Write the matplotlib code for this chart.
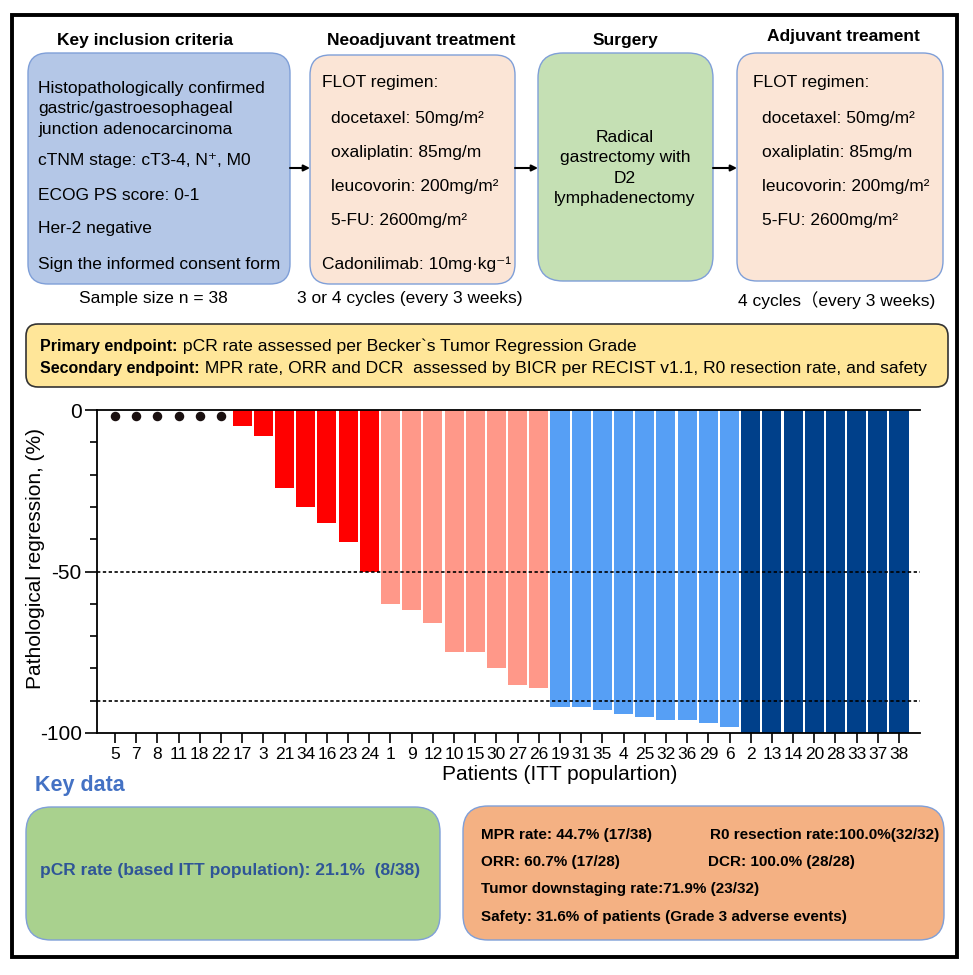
import numpy as np
import matplotlib.pyplot as plt
from matplotlib.patches import FancyBboxPatch, Rectangle

plt.rcParams['font.family'] = ['Liberation Sans', 'DejaVu Sans', 'Noto Sans CJK SC']

# waterfall data (patients in plotted order, regression in %; nan = not evaluated)
patients = ['5', '7', '8', '11', '18', '22', '17', '3', '21', '34', '16', '23', '24',
            '1', '9', '12', '10', '15', '30', '27', '26', '19', '31', '35', '4', '25',
            '32', '36', '29', '6', '2', '13', '14', '20', '28', '33', '37', '38']
regression = [np.nan, np.nan, np.nan, np.nan, np.nan, np.nan,
              -5, -8, -24, -30, -35, -41, -50,
              -60, -62, -66, -75, -75, -80, -85, -86,
              -92, -92, -93, -94, -95, -96, -96, -97, -98,
              -100, -100, -100, -100, -100, -100, -100, -100]
ref_lines = [-50, -90]

# flow chart texts
headers = ['Key inclusion criteria', 'Neoadjuvant treatment', 'Surgery', 'Adjuvant treament']
criteria = ['Histopathologically confirmed\ngastric/gastroesophageal\njunction adenocarcinoma',
            'cTNM stage: cT3-4, N\u207a, M0', 'ECOG PS score: 0-1', 'Her-2 negative',
            'Sign the informed consent form']
flot = ['docetaxel: 50mg/m\u00b2', 'oxaliplatin: 85mg/m', 'leucovorin: 200mg/m\u00b2',
        '5-FU: 2600mg/m\u00b2']
key_data = ['MPR rate: 44.7% (17/38)', 'R0 resection rate:100.0%(32/32)',
            'ORR: 60.7% (17/28)', 'DCR: 100.0% (28/28)',
            'Tumor downstaging rate:71.9% (23/32)',
            'Safety: 31.6% of patients (Grade 3 adverse events)']


def bar_color(v):
    if v <= -100:
        return '#00408a'
    if v <= -90:
        return '#569ff5'
    if v < -50:
        return '#ff9889'
    return '#ff0000'


fig = plt.figure(figsize=(9.73, 9.75), dpi=100)
bg = fig.add_axes([0, 0, 1, 1])
bg.set_xlim(0, 973)
bg.set_ylim(975, 0)
bg.axis('off')
renderer = fig.canvas.get_renderer()


def box(x, y, w, h, fc, ec='#7f9fd8', r=20, lw=1.0):
    bg.add_patch(FancyBboxPatch((x, y), w, h, boxstyle='round,pad=0,rounding_size=%d' % r,
                                fc=fc, ec=ec, lw=lw))


def txt(x, y, s, size=12.5, **kw):
    return bg.text(x, y, s, fontsize=size, va='center', **kw)


def run(x, y, parts):
    for s, w, size in parts:
        t = txt(x, y, s, size=size, weight=w)
        x += t.get_window_extent(renderer).width


# outer frame
bg.add_patch(Rectangle((12, 15), 945, 942, fill=False, ec='black', lw=2.8))

# top boxes
box(28, 53, 262, 231, '#b4c7e7')
box(310, 55, 205, 229, '#fbe5d6')
box(538, 53, 175, 228, '#c5e0b4', r=25)
box(737, 53, 206, 228, '#fbe5d6')

for s, xc, yc in zip(headers, [145, 421, 625, 843], [40, 40, 40, 37]):
    txt(xc, yc, s, weight='bold', ha='center')

for s, yc in zip(criteria, [109, 161, 195, 229, 265]):
    txt(38, yc, s, linespacing=1.42)

txt(322, 83, 'FLOT regimen:')
txt(753, 83, 'FLOT regimen:')
for s, yc in zip(flot, [118, 153, 187, 221]):
    txt(331, yc, s)
    txt(762, yc, s)
txt(322, 264, 'Cadonilimab: 10mg\u00b7kg\u207b\u00b9')

txt(625, 168, 'Radical\ngastrectomy with\nD2\nlymphadenectomy', ha='center',
    multialignment='center', linespacing=1.42)

txt(153, 299, 'Sample size n = 38', ha='center')
txt(410, 299, '3 or 4 cycles (every 3 weeks)', ha='center')
txt(837, 300, '4 cycles\uff08every 3 weeks)', ha='center')

for x0, x1 in [(290, 310), (515, 538), (713, 737)]:
    bg.annotate('', xy=(x1, 168), xytext=(x0, 168),
                arrowprops=dict(arrowstyle='-|>', color='black', lw=1.5,
                                mutation_scale=9, shrinkA=0, shrinkB=0))

# endpoints
box(26, 324, 922, 63, '#ffe699', ec='#333333', r=12, lw=1.2)
run(40, 346, [('Primary endpoint:', 'bold', 11.5),
              (' pCR rate assessed per Becker`s Tumor Regression Grade', 'normal', 12.6)])
run(40, 369, [('Secondary endpoint:', 'bold', 11.5),
              (' MPR rate, ORR and DCR  assessed by BICR per RECIST v1.1, '
               'R0 resection rate, and safety', 'normal', 12.6)])

# key data
txt(35, 785, 'Key data', size=15.5, weight='bold', color='#4472c4')
box(26, 807, 414, 133, '#a9d18e', r=25)
txt(40, 871, 'pCR rate (based ITT population): 21.1%  (8/38)', weight='bold', color='#2f5597')
box(463, 806, 481, 134, '#f4b183', r=25)
kx = [481, 710, 481, 708, 481, 481]
ky = [835, 835, 862, 862, 889, 917]
for s, x, y in zip(key_data, kx, ky):
    txt(x, y, s, size=11, weight='bold')

# waterfall chart
ax = fig.add_axes([97 / 973, 1 - 733 / 975, (920 - 97) / 973, (733 - 410) / 975])
xpos = np.arange(len(patients))
vals = np.array(regression, dtype=float)
has = ~np.isnan(vals)
ax.bar(xpos[has], vals[has], width=0.9, color=[bar_color(v) for v in vals[has]], zorder=2)
ax.scatter(xpos[~has], np.full((~has).sum(), -2.0), s=34, color='#1a1010', zorder=3)
for r in ref_lines:
    ax.axhline(r, color='black', ls=(0, (2, 1.5)), lw=1.2, zorder=4)

ax.set_xlim(-0.85, 37.99)
ax.set_ylim(-100, 0)
ax.set_xticks(xpos)
ax.set_xticklabels(patients, fontsize=12.5)
ax.set_yticks([0, -50, -100])
ax.set_yticklabels(['0', '-50', '-100'], fontsize=15)
ax.set_yticks(np.arange(-100, 1, 10), minor=True)
ax.tick_params(axis='y', which='major', length=9, width=1.2, pad=2)
ax.tick_params(axis='y', which='minor', length=5, width=1.2)
ax.tick_params(axis='x', length=7, width=1.2, pad=3)
for side in ['left', 'top', 'bottom']:
    ax.spines[side].set_linewidth(1.3)
ax.spines['right'].set_visible(False)
ax.set_ylabel('Pathological regression, (%)', fontsize=15)
ax.yaxis.set_label_coords(-0.063, 0.54)
ax.set_xlabel('Patients (ITT populartion)', fontsize=15)
ax.xaxis.set_label_coords(0.5626, -0.098)

fig.savefig('out.png', dpi=100)
